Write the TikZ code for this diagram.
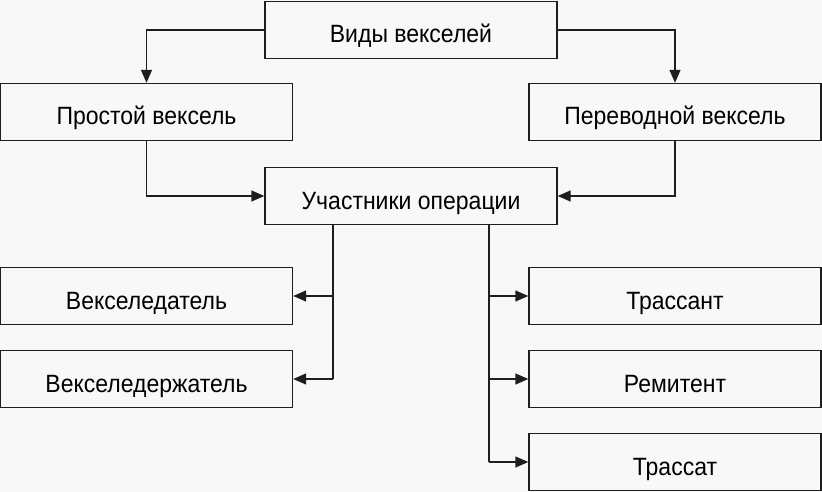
\documentclass[tikz,border=0pt]{standalone}
\usepackage{fontspec}
\setmainfont{Liberation Sans}[FakeStretch=0.92]
\usetikzlibrary{arrows.meta}
\definecolor{hinter}{HTML}{F8F8F8}
\definecolor{linie}{HTML}{1E1E1E}
\tikzset{
	kasten/.style={draw=linie, line width=1.4pt, minimum width=292pt, minimum height=57pt, inner sep=0pt, text height=26pt, text depth=0pt, font=\fontsize{25}{28}\selectfont},
	pfeil/.style={draw=linie, line width=1.4pt, -{Triangle[length=13pt,width=11pt]}},
	linie/.style={draw=linie, line width=1.4pt}
}
\begin{document}
\begin{tikzpicture}[x=1pt,y=-1pt]
		%Hintergrund
		\fill[hinter] (0,0) rectangle (822,492);
		\useasboundingbox (0,0) rectangle (822,492);
		%Kaesten oben
		\node[kasten] (vidy) at (411,30) {Виды векселей};
		\node[kasten] (prostoj) at (146.5,112) {Простой вексель};
		\node[kasten] (perevod) at (675,112) {Переводной вексель};
		\node[kasten] (uchast) at (411,196) {Участники операции};
		%Kaesten links
		\node[kasten] (vdatel) at (146.5,296) {Векселедатель};
		\node[kasten] (vderzh) at (146.5,379) {Векселедержатель};
		%Kaesten rechts
		\node[kasten] (trassant) at (675,296) {Трассант};
		\node[kasten] (remitent) at (675,379) {Ремитент};
		\node[kasten] (trassat) at (675,462) {Трассат};
		%Stammlinien
		\coordinate (lj) at (333,0);
		\coordinate (rj) at (489,0);
		%Pfeile
		\draw[pfeil] (vidy.west) -| (prostoj.north);
		\draw[pfeil] (vidy.east) -| (perevod.north);
		\draw[pfeil] (prostoj.south) |- (uchast.west);
		\draw[pfeil] (perevod.south) |- (uchast.east);
		\draw[linie] (uchast.south -| lj) -- (vderzh.east -| lj);
		\draw[linie] (uchast.south -| rj) -- (trassat.west -| rj);
		\foreach \z in {vdatel, vderzh} {
			\draw[pfeil] (\z.east -| lj) -- (\z.east);
		}
		\foreach \z in {trassant, remitent, trassat} {
			\draw[pfeil] (\z.west -| rj) -- (\z.west);
		}
\end{tikzpicture}
\end{document}
